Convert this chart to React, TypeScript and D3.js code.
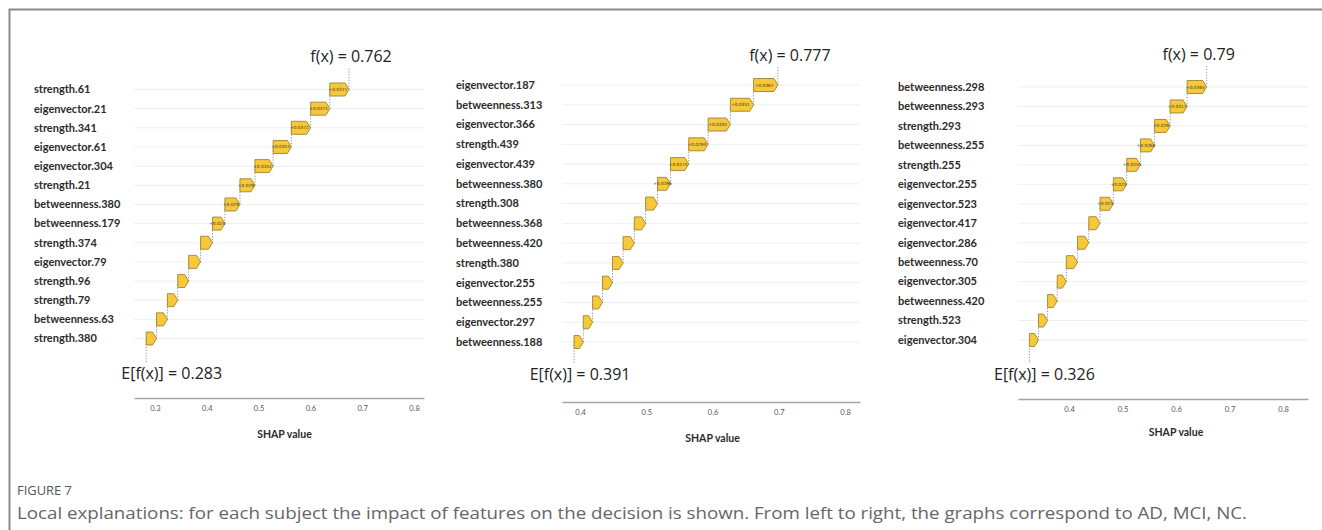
import React, { useEffect, useRef } from "react";
import * as d3 from "d3";

// AD subject
const adFeatures = [
  "strength.61", "eigenvector.21", "strength.341", "eigenvector.61", "eigenvector.304",
  "strength.21", "betweenness.380", "betweenness.179", "strength.374", "eigenvector.79",
  "strength.96", "strength.79", "betweenness.63", "strength.380",
];
const adShap = [0.0371, 0.0371, 0.0372, 0.0351, 0.0351, 0.029, 0.029, 0.024, 0.023, 0.023, 0.021, 0.02, 0.021, 0.02];
const adExpected = 0.283;
const adOutput = 0.762;
const adTicks = [0.3, 0.4, 0.5, 0.6, 0.7, 0.8];

// MCI subject
const mciFeatures = [
  "eigenvector.187", "betweenness.313", "eigenvector.366", "strength.439", "eigenvector.439",
  "betweenness.380", "strength.308", "betweenness.368", "betweenness.420", "strength.380",
  "eigenvector.255", "betweenness.255", "eigenvector.297", "betweenness.188",
];
const mciShap = [0.0367, 0.0351, 0.0335, 0.0293, 0.0275, 0.0196, 0.018, 0.017, 0.017, 0.016, 0.015, 0.015, 0.014, 0.014];
const mciExpected = 0.391;
const mciOutput = 0.777;
const mciTicks = [0.4, 0.5, 0.6, 0.7, 0.8];

// NC subject
const ncFeatures = [
  "betweenness.298", "betweenness.293", "strength.293", "betweenness.255", "strength.255",
  "eigenvector.255", "eigenvector.523", "eigenvector.417", "eigenvector.286", "betweenness.70",
  "eigenvector.305", "betweenness.420", "strength.523", "eigenvector.304",
];
const ncShap = [0.0365, 0.0317, 0.029, 0.0266, 0.0255, 0.025, 0.025, 0.021, 0.021, 0.021, 0.017, 0.018, 0.017, 0.017];
const ncExpected = 0.326;
const ncOutput = 0.79;
const ncTicks = [0.4, 0.5, 0.6, 0.7, 0.8];

type Layout = {
  labelX: number;
  range: [number, number];
  domain: [number, number];
  rowTop: number;
  rowBottom: number;
  axisY: number;
  titleY: number;
  fxY: number;
  fxDx: number;
  eY: number;
  eDx: number;
  eLineEnd: number;
};

type PanelProps = {
  features: string[];
  shap: number[];
  expected: number;
  output: number;
  ticks: number[];
  layout: Layout;
};

const ARROW_H = 13;
const HEAD = 4;
const FILL = "#f6c83a";
const EDGE = "#9c8537";
const DOT = "#8f8f8f";

function Panel({ features, shap, expected, output, ticks, layout }: PanelProps) {
  const axisRef = useRef<SVGGElement>(null);
  const x = d3.scaleLinear().domain(layout.domain).range(layout.range);
  const y = d3
    .scalePoint<string>()
    .domain(features)
    .range([layout.rowTop, layout.rowBottom]);

  // the chain starts at the expected value on the bottom row and climbs upward
  const n = features.length;
  const starts: number[] = new Array(n);
  let acc = expected;
  for (let i = n - 1; i >= 0; i--) {
    starts[i] = acc;
    acc += shap[i];
  }
  const end = acc;

  useEffect(() => {
    if (!axisRef.current) return;
    const g = d3.select(axisRef.current);
    g.call(
      d3
        .axisBottom(x)
        .tickValues(ticks)
        .tickSize(0)
        .tickPadding(8)
        .tickFormat(d3.format(".1f"))
    );
    g.select(".domain").attr("stroke", "#a3a3a3").attr("stroke-width", 1.3);
    g.selectAll("text")
      .attr("fill", "#555")
      .attr("font-size", 7.5)
      .attr("font-family", "Lato, 'Open Sans', sans-serif");
  });

  const [r0, r1] = layout.range;
  const topY = y(features[0]) as number;
  const botY = y(features[n - 1]) as number;

  return (
    <g>
      {features.map((f) => (
        <line
          key={"grid-" + f}
          x1={r0}
          x2={r1}
          y1={y(f)}
          y2={y(f)}
          stroke="#efefef"
          strokeWidth={1}
        />
      ))}
      {/* connectors between consecutive arrows */}
      {features.map((f, i) =>
        i > 0 ? (
          <line
            key={"conn-" + f}
            x1={x(starts[i] + shap[i])}
            x2={x(starts[i] + shap[i])}
            y1={y(f)}
            y2={y(features[i - 1])}
            stroke={DOT}
            strokeWidth={1}
            strokeDasharray="1.2 1.6"
          />
        ) : null
      )}
      <line
        x1={x(end)}
        x2={x(end)}
        y1={topY}
        y2={layout.fxY + 5}
        stroke={DOT}
        strokeWidth={1}
        strokeDasharray="1.2 1.6"
      />
      <line
        x1={x(expected)}
        x2={x(expected)}
        y1={botY}
        y2={layout.eLineEnd}
        stroke={DOT}
        strokeWidth={1}
        strokeDasharray="1.2 1.6"
      />
      {features.map((f, i) => {
        const x0 = x(starts[i]);
        const x1 = x(starts[i] + shap[i]);
        const cy = y(f) as number;
        const head = Math.min(HEAD, (x1 - x0) * 0.5);
        const h = ARROW_H / 2;
        const d = `M${x0},${cy - h}L${x1 - head},${cy - h}L${x1},${cy}L${x1 - head},${cy + h}L${x0},${cy + h}Z`;
        const showLabel = x1 - x0 >= 12;
        return (
          <g key={"arrow-" + f}>
            <path d={d} fill={FILL} stroke={EDGE} strokeWidth={0.9} />
            {showLabel && (
              <text
                x={(x0 + x1 - head) / 2 + 0.5}
                y={cy}
                dy="0.35em"
                textAnchor="middle"
                fontSize={4.3}
                fill="#3a3320"
                fontFamily="'DejaVu Sans', sans-serif"
              >
                {"+" + shap[i]}
              </text>
            )}
          </g>
        );
      })}
      {features.map((f) => (
        <text
          key={"label-" + f}
          x={layout.labelX}
          y={y(f)}
          dy="0.35em"
          fontSize={11}
          fontWeight={700}
          fill="#2b2b2b"
          fontFamily="Lato, sans-serif"
        >
          {f}
        </text>
      ))}
      <text
        x={x(end) + layout.fxDx}
        y={layout.fxY}
        textAnchor="middle"
        fontSize={16}
        fill="#222"
        fontFamily="'Open Sans', sans-serif"
      >
        {"f(x) = " + output}
      </text>
      <text
        x={x(expected) + layout.eDx}
        y={layout.eY}
        textAnchor="middle"
        fontSize={16}
        fill="#222"
        fontFamily="'Open Sans', sans-serif"
      >
        {"E[f(x)] = " + expected}
      </text>
      <g ref={axisRef} transform={`translate(0,${layout.axisY})`} />
      <text
        x={(x(ticks[0]) + x(ticks[ticks.length - 1])) / 2}
        y={layout.titleY}
        textAnchor="middle"
        fontSize={10.5}
        fontWeight={700}
        fill="#2b2b2b"
        fontFamily="Lato, sans-serif"
      >
        SHAP value
      </text>
    </g>
  );
}

const adLayout: Layout = {
  labelX: 34,
  range: [134, 424],
  domain: [0.2595, 0.8193],
  rowTop: 89.5,
  rowBottom: 338.5,
  axisY: 398,
  titleY: 438,
  fxY: 62,
  fxDx: 2,
  eY: 379,
  eDx: 25.5,
  eLineEnd: 363,
};

const mciLayout: Layout = {
  labelX: 456,
  range: [562, 860],
  domain: [0.3728, 0.8226],
  rowTop: 85,
  rowBottom: 342,
  axisY: 402,
  titleY: 442,
  fxY: 61,
  fxDx: 12,
  eY: 380,
  eDx: 6,
  eLineEnd: 363,
};

const ncLayout: Layout = {
  labelX: 898,
  range: [1018, 1308],
  domain: [0.3047, 0.8467],
  rowTop: 87,
  rowBottom: 340,
  axisY: 399,
  titleY: 436,
  fxY: 60,
  fxDx: -8,
  eY: 380,
  eDx: 15,
  eLineEnd: 363,
};

export default function App() {
  return (
    <div style={{ position: "absolute", left: 0, top: 0 }}>
      <svg width={1322} height={530} style={{ display: "block", background: "#fff" }}>
        <path d="M1322,9.5H9.5V530" fill="none" stroke="#8a8a8a" strokeWidth={2} />
        <Panel features={adFeatures} shap={adShap} expected={adExpected} output={adOutput} ticks={adTicks} layout={adLayout} />
        <Panel features={mciFeatures} shap={mciShap} expected={mciExpected} output={mciOutput} ticks={mciTicks} layout={mciLayout} />
        <Panel features={ncFeatures} shap={ncShap} expected={ncExpected} output={ncOutput} ticks={ncTicks} layout={ncLayout} />
        <text
          x={17}
          y={495}
          fontSize={12.5}
          fill="#555"
          fontFamily="'Open Sans', sans-serif"
          textLength={55}
          lengthAdjust="spacingAndGlyphs"
        >
          FIGURE 7
        </text>
        <text
          x={17}
          y={519}
          fontSize={16}
          fill="#666"
          fontFamily="'Open Sans', sans-serif"
          textLength={1230}
          lengthAdjust="spacingAndGlyphs"
        >
          Local explanations: for each subject the impact of features on the decision is shown. From left to right, the graphs correspond to AD, MCI, NC.
        </text>
      </svg>
    </div>
  );
}
